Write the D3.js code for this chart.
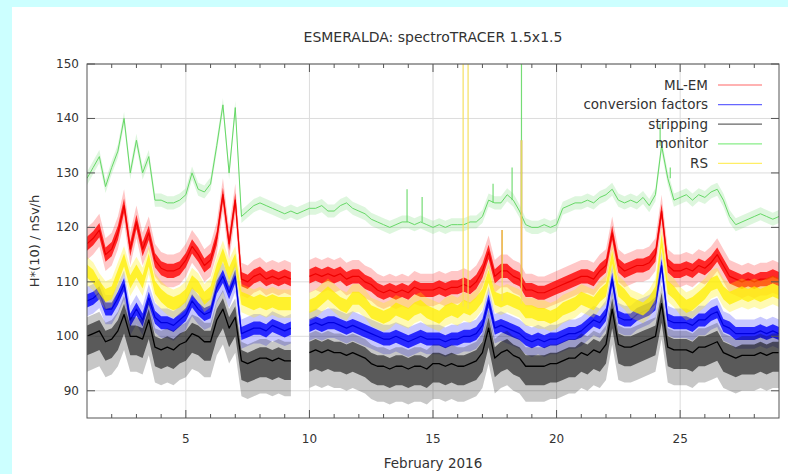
<!DOCTYPE html>
<html><head><meta charset="utf-8">
<script src="https://cdn.jsdelivr.net/npm/d3@7"></script>
<style>body{margin:0;background:#ccffff;} svg{display:block}</style>
</head><body><svg id="c" width="788" height="474"></svg>
<script>
const title = "ESMERALDA: spectroTRACER 1.5x1.5";
const xLabel = "February 2016";
const yLabel = "H*(10) / nSv/h";
const seriesNames = ["ML-EM", "conversion factors", "stripping", "monitor", "RS"];
const xTicks = [5, 10, 15, 20, 25];
const xMinorTicks = d3.range(2, 29);
const yTicks = [90, 100, 110, 120, 130, 140, 150];
// sampling: every 6 hours, 1 Feb 00:00 -> 29 Feb 00:00
const days = d3.range(113).map(i => 1 + i * 0.25);

const mlem = [
 117,118,119.5,115, 116,119,124,116, 121,116,119,114, 112.5,112,112,112.5,
 114,116.5,115,113, 114,118,126,117, 125,110.5,110,111, 111.5,110.5,111,110.5,
 111,110.5,null,null, 111,111.5,111,111.5, 111,111.5,110.5,111, 111,110,109.5,108.5,
 108,108.5,108,108.5, 108,109,108.5,108.5, 108.5,109,108.5,109, 109,109.5,109,110,
 112,115.5,111,112, 112,111,110.5,108.5, 108.5,108,108,108.5, 109,109.5,110,110.5,
 111,111,110.5,112, 113,119,113,112, 112.5,113,113,113.5, 115,123,113,112,
 112,112.5,112,113, 112.5,113.5,115,113, 111,110.5,110,110.5, 110,110.5,110.5,111,
 110.5];
const convFactors = [
 106.5,107,108,105, 105,107,109.5,103, 105,103,107,103.5, 102.5,102.5,102,103,
 104,106.5,105,104, 104.5,109,111,108, 111,100.5,101,101.5, 101.5,101,102,101.5,
 101,101.5,null,null, 102,102.5,102,102.5, 102.5,102,101.5,102, 101.5,101,100.5,100,
 99.5,99.5,100,99.5, 99,99.5,100,99.5, 99.5,99.5,99,99.5, 99.5,100,100,100.5,
 102,106.5,101.5,102, 101.5,101,100.5,99.5, 99,99.5,99,99.5, 99.5,100,100.5,100.5,
 101,102,103,102.5, 104,110.5,103.5,103, 103,104,104.5,105, 106,113,103,102.5,
 102.5,102.5,102,103, 103,104,104.5,102, 101.5,100.5,100.5,100.5, 100.5,101,100.5,101,
 100.5];
const stripping = [
 100,100.5,101,99, 99.5,101,104,100, 100,99.5,103,98, 97.5,98,97.5,98.5,
 99,100.5,100,99, 99,103,105,101.5, 103.5,95.5,95,95.5, 96,96,95.5,96,
 95.5,95.5,null,null, 97,97.5,97,97.5, 97,97,96.5,97, 96.5,96,95,94.5,
 94.5,94,94.5,94.5, 94,94.5,94.5,94, 95,95,94.5,95, 94.5,94.5,95,95.5,
 97,101.5,96,97, 97.5,96.5,96,94.5, 94.5,94.5,94.5,95, 95,95.5,96,96,
 97,96.5,97.5,97, 98.5,105,98.5,98, 98,98.5,99,99.5, 100,106,98,97.5,
 97.5,97.5,97,98, 98,98.5,99,97, 96.5,96,96.5,96.5, 96.5,97,96.5,97,
 97];
const monitor = [
 129,131,133,127.5, 131,134,140,130, 136,130,133,125, 125,124.5,124.5,125,
 126,130,127,126.5, 128,135,142.5,130, 142,122,123,124, 124.5,124,123.5,123,
 122.5,123,122.5,123, 123.5,123.5,124,123, 123,124,124.5,123.5, 123,122.5,121.5,121,
 120.5,120,120.5,121, 121,120.5,121,120.5, 120,120.5,120,120.5, 120.5,120.5,121,121,
 122,125,124.5,124.5, 126,125,123,120.5, 120,120,120.5,120, 120.5,123.5,124,124.5,
 124.5,125,124.5,125.5, 126,127,125,124.5, 125,124.5,125.5,124, 126,135,129,125,
 125.5,126,125,126, 125.5,126.5,127,125, 122,120.5,121,121.5, 122,122.5,122,121.5,
 122];
const rs = [
 112,111,109,107.5, 108,111,114,110, 112,110,114,109, 107.5,106.5,106,106.5,
 107.5,110,109,107, 108,112,115,111.5, 114,107,106.5,106, 106.5,106,106.5,106,
 106,106,null,null, 105.5,106,107,108, 107,106,105.5,107, 107,106,104.5,104,
 103.5,104,105,104.5, 104,105,105.5,104.5, 104,103.5,104.5,105, 104.5,105.5,105,106,
 107.5,111,107,106.5, 107,106.5,106,104.5, 104.5,104,104,103.5, 104,105,105.5,106,
 107,106.5,106,107.5, 108.5,114.5,108.5,107.5, 106,105.5,105,106, 108,117.5,109,108,
 106.5,105.5,106,107, 108,109.5,110,108, 107,107.5,108,107.5, 108,107.5,108,108.5,
 108];

// short spikes (day, top value)
const monitorSpikeDays = [13.95, 14.56, 17.43, 18.2, 18.58, 24.19, 24.6];
const monitorSpikeTops = [127, 125.6, 128, 131, 152, 139, 131];
const rsSpikeDays = [16.22, 16.42, 17.8, 18.58];
const rsSpikeTops = [152, 152, 119.5, 136];
const mlemSpikeDays = [17.8, 18.58];
const mlemSpikeTops = [119.5, 136];

const svg = d3.select("#c");
const W = 788, H = 474;
svg.append("rect").attr("x", 12).attr("y", 7).attr("width", W - 12).attr("height", H - 7).attr("fill", "#fff");

const m = {l: 87, r: 779, t: 64, b: 418};
const x = d3.scaleLinear().domain([1, 29]).range([m.l, m.r]);
const y = d3.scaleLinear().domain([85, 150]).range([m.b, m.t]);
const font = "'DejaVu Sans', Verdana, sans-serif";

svg.append("defs").append("clipPath").attr("id", "clip")
  .append("rect").attr("x", m.l).attr("y", m.t).attr("width", m.r - m.l).attr("height", m.b - m.t);

// grid
const grid = svg.append("g").attr("stroke", "#dcdcdc").attr("stroke-width", 1);
yTicks.forEach(v => grid.append("line").attr("x1", m.l).attr("x2", m.r).attr("y1", y(v)).attr("y2", y(v)));
xTicks.forEach(v => grid.append("line").attr("y1", m.t).attr("y2", m.b).attr("x1", x(v)).attr("x2", x(v)));

const plot = svg.append("g").attr("clip-path", "url(#clip)");

function band(vals, color, lo, hi, op) {
  const data = days.map((d, i) => ({d, v: vals[i]}));
  const area = d3.area().defined(p => p.v != null).x(p => x(p.d)).y0(p => y(p.v - lo)).y1(p => y(p.v + hi));
  plot.append("path").datum(data).attr("d", area).attr("fill", color).attr("fill-opacity", op);
}
function line(vals, color, lw) {
  const data = days.map((d, i) => ({d, v: vals[i]}));
  const ln = d3.line().defined(p => p.v != null).x(p => x(p.d)).y(p => y(p.v));
  plot.append("path").datum(data).attr("d", ln).attr("fill", "none").attr("stroke", color).attr("stroke-width", lw).attr("stroke-linejoin", "round");
}
function spikes(vals, sd, st, color, lw, op) {
  sd.forEach((d, i) => {
    const k = Math.round((d - 1) / 0.25);
    plot.append("line").attr("x1", x(d)).attr("x2", x(d)).attr("y1", y(vals[k])).attr("y2", y(st[i]))
      .attr("stroke", color).attr("stroke-width", lw).attr("stroke-opacity", op);
  });
}

band(mlem, "#ff2020", 3, 3, 0.25);
band(mlem, "#ff0000", 1.3, 1.3, 0.8);
line(mlem, "#ee0000", 1.2);
spikes(mlem, mlemSpikeDays, mlemSpikeTops, "#cc3300", 1.5, 0.8);
band(convFactors, "#2020ff", 2.8, 2.6, 0.25);
band(convFactors, "#0000ff", 1.2, 1.2, 0.8);
line(convFactors, "#0000dd", 1.2);
band(stripping, "#000000", 6.5, 3.5, 0.22);
band(stripping, "#000000", 3.5, 2, 0.55);
line(stripping, "#000000", 1.3);
band(monitor, "#77dd77", 1.2, 1.2, 0.25);
line(monitor, "#66d866", 1);
spikes(monitor, monitorSpikeDays, monitorSpikeTops, "#66d866", 1.2, 0.9);
band(rs, "#ffee00", 2.6, 2.6, 0.3);
band(rs, "#ffee00", 1.2, 1.2, 0.75);
spikes(rs, rsSpikeDays, rsSpikeTops, "#f5e060", 1.5, 0.8);

// frame and ticks
const ax = svg.append("g").attr("stroke", "#555").attr("stroke-width", 1);
ax.append("rect").attr("x", m.l).attr("y", m.t).attr("width", m.r - m.l).attr("height", m.b - m.t).attr("fill", "none");
yTicks.forEach(v => {
  ax.append("line").attr("x1", m.l).attr("x2", m.l + 8).attr("y1", y(v)).attr("y2", y(v));
  ax.append("line").attr("x1", m.r).attr("x2", m.r - 8).attr("y1", y(v)).attr("y2", y(v));
});
xMinorTicks.forEach(v => {
  const len = xTicks.includes(v) ? 8 : 4;
  ax.append("line").attr("x1", x(v)).attr("x2", x(v)).attr("y1", m.b).attr("y2", m.b - len);
  ax.append("line").attr("x1", x(v)).attr("x2", x(v)).attr("y1", m.t).attr("y2", m.t + len);
});

const txt = svg.append("g").attr("font-family", font).attr("fill", "#333").attr("font-size", 12);
yTicks.forEach(v => txt.append("text").attr("x", m.l - 8).attr("y", y(v) + 4).attr("text-anchor", "end").text(v));
xTicks.forEach(v => txt.append("text").attr("x", x(v)).attr("y", m.b + 25).attr("text-anchor", "middle").text(v));
txt.append("text").attr("x", (m.l + m.r) / 2).attr("y", 468).attr("text-anchor", "middle").attr("font-size", 13.5).text(xLabel);
txt.append("text").attr("x", (m.l + m.r) / 2).attr("y", 42).attr("text-anchor", "middle").attr("font-size", 14).text(title);
txt.append("text").attr("transform", `translate(39,${(m.t + m.b) / 2}) rotate(-90)`).attr("text-anchor", "middle").attr("font-size", 13).text(yLabel);

// legend
const legColors = ["#ff6666", "#6666ff", "#666666", "#88ee88", "#ffee66"];
seriesNames.forEach((n, i) => {
  const ly = 85 + i * 19.6;
  txt.append("text").attr("x", 708).attr("y", ly + 4.5).attr("text-anchor", "end").attr("font-size", 13.5).text(n);
  svg.append("line").attr("x1", 718).attr("x2", 762).attr("y1", ly).attr("y2", ly).attr("stroke", legColors[i]).attr("stroke-width", 1.2);
});
</script></body></html>
